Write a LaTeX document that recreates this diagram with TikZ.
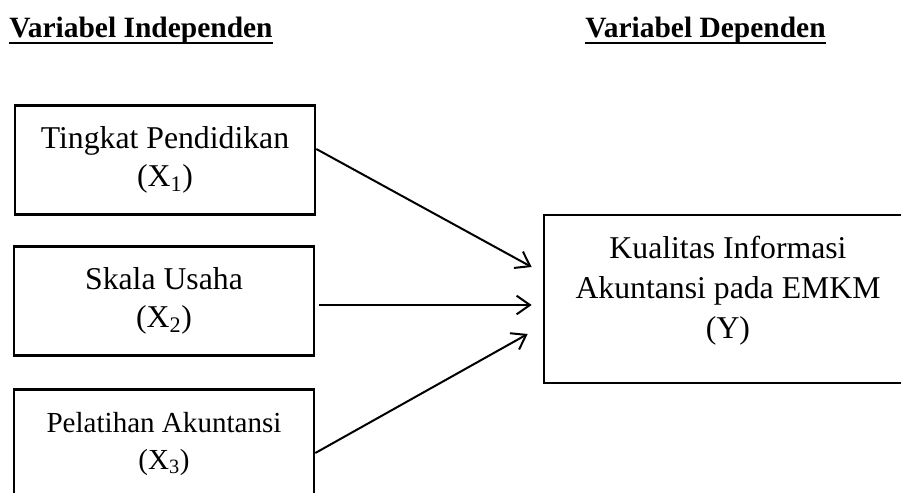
\documentclass[tikz,border=0pt]{standalone}
\usepackage{fontspec}
\setmainfont{Liberation Serif}
\usetikzlibrary{arrows.meta}
\usetikzlibrary{positioning}

\begin{document}
\begin{tikzpicture}[x=0.75pt,y=-0.75pt,
        varbox/.style={draw,line width=2pt,minimum width=225pt,minimum height=81.5pt,inner sep=0pt,align=center,font=\fontsize{23.8}{29}\selectfont},
        vartitle/.style={anchor=base west,inner sep=0pt,font=\fontsize{22.1}{26}\selectfont\bfseries},
        arr/.style={line width=1.5pt,-{Straight Barb[length=10pt,width=14pt]}}]
        \useasboundingbox (0,0) rectangle (901,493);
        \clip (0,0) rectangle (901,493);
        \node[vartitle] (ind) at (9,37) {Variabel Independen};
        \node[vartitle] (dep) at (585,37) {Variabel Dependen};
        \draw[line width=2pt] ([yshift=-4.5pt]ind.base west) -- ([yshift=-4.5pt]ind.base east);
        \draw[line width=2pt] ([yshift=-4.5pt]dep.base west) -- ([yshift=-4.5pt]dep.base east);
        \node[varbox] (x1) at (165,160) {Tingkat Pendidikan\\(X\textsubscript{1})};
        \node[varbox] (x2) at (164,301) {Skala Usaha\\(X\textsubscript{2})};
        \node[varbox,font=\fontsize{21.8}{27.75}\selectfont] (x3) at (164,444) {Pelatihan Akuntansi\\(X\textsubscript{3})};
        \node[varbox,minimum width=276pt,minimum height=126pt] (y) at (728,299) {};
        \node[align=center,inner sep=0pt,font=\fontsize{23.8}{30}\selectfont] (ytext) at (728,291) {Kualitas Informasi\\Akuntansi pada EMKM\\(Y)};
        \draw[arr] ([yshift=8.25pt]x1.east) -- ([xshift=-8.25pt,yshift=24pt]y.west);
        \draw[arr] ([xshift=3pt,yshift=-3pt]x2.east) -- ([xshift=-8.25pt,yshift=-4.5pt]y.west);
        \draw[arr] ([yshift=-6.75pt]x3.east) -- ([xshift=-11.25pt,yshift=-26.25pt]y.west);
    \end{tikzpicture}
\end{document}
